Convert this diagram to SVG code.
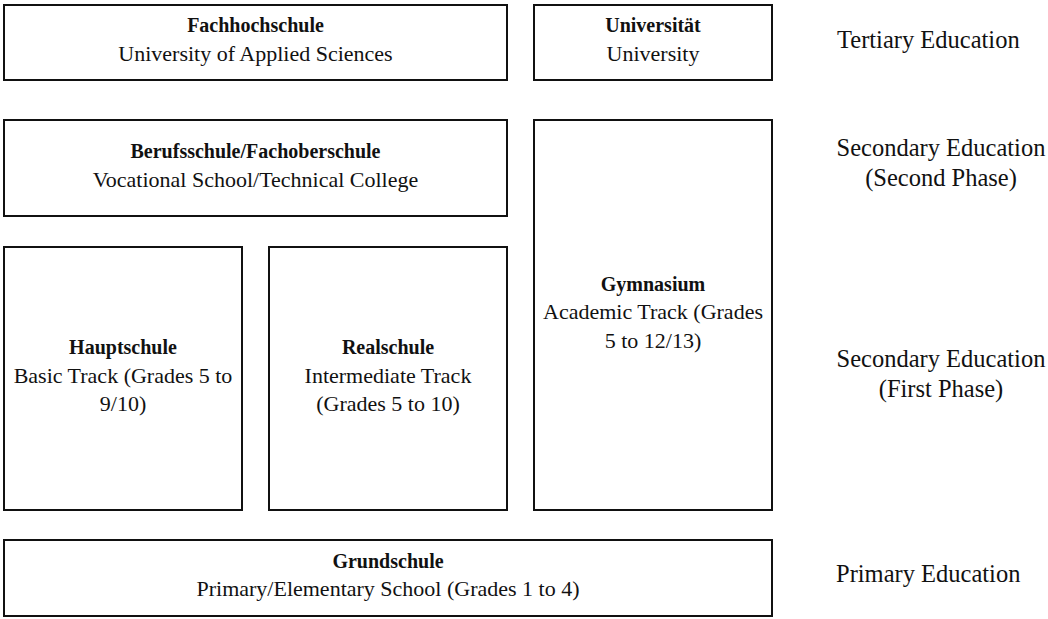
<svg xmlns="http://www.w3.org/2000/svg" width="1048" height="619" viewBox="0 0 1048 619">
<style>
  .box { fill: #ffffff; stroke: #111111; stroke-width: 2; }
  .t { font-family: "Liberation Serif", "Times New Roman", serif; fill: #111111; text-anchor: middle; }
  .b { font-weight: bold; font-size: 20px; }
  .r { font-size: 22px; }
  .lab { font-family: "Liberation Serif", "Times New Roman", serif; font-size: 24.5px; fill: #111111; }
</style>
<rect width="1048" height="619" fill="#ffffff"/>
<g id="connectors"></g>
<g id="fachhochschule">
  <rect class="box" x="4" y="5" width="503" height="75"/>
  <text class="t b" x="255.5" y="32">Fachhochschule</text>
  <text class="t r" x="255.5" y="61">University of Applied Sciences</text>
</g>
<g id="universitaet">
  <rect class="box" x="534" y="5" width="238" height="75"/>
  <text class="t b" x="653" y="32">Universität</text>
  <text class="t r" x="653" y="61">University</text>
</g>
<g id="berufsschule">
  <rect class="box" x="4" y="120" width="503" height="96"/>
  <text class="t b" x="255.5" y="158">Berufsschule/Fachoberschule</text>
  <text class="t r" x="255.5" y="187">Vocational School/Technical College</text>
</g>
<g id="gymnasium">
  <rect class="box" x="534" y="120" width="238" height="390"/>
  <text class="t b" x="653" y="290.5">Gymnasium</text>
  <text class="t r" x="653" y="319">Academic Track (Grades</text>
  <text class="t r" x="653" y="347.5">5 to 12/13)</text>
</g>
<g id="hauptschule">
  <rect class="box" x="4" y="247" width="238" height="263"/>
  <text class="t b" x="123" y="354">Hauptschule</text>
  <text class="t r" x="123" y="382.5">Basic Track (Grades 5 to</text>
  <text class="t r" x="123" y="411">9/10)</text>
</g>
<g id="realschule">
  <rect class="box" x="269" y="247" width="238" height="263"/>
  <text class="t b" x="388" y="354">Realschule</text>
  <text class="t r" x="388" y="382.5">Intermediate Track</text>
  <text class="t r" x="388" y="411">(Grades 5 to 10)</text>
</g>
<g id="grundschule">
  <rect class="box" x="4" y="540" width="768" height="76"/>
  <text class="t b" x="388" y="567.5">Grundschule</text>
  <text class="t r" x="388" y="596">Primary/Elementary School (Grades 1 to 4)</text>
</g>
<g id="label-tertiary">
  <text class="lab" x="837" y="47.5">Tertiary Education</text>
</g>
<g id="label-secondary-second">
  <text class="lab" x="941" y="156" text-anchor="middle">Secondary Education</text>
  <text class="lab" x="941" y="186" text-anchor="middle">(Second Phase)</text>
</g>
<g id="label-secondary-first">
  <text class="lab" x="941" y="366.5" text-anchor="middle">Secondary Education</text>
  <text class="lab" x="941" y="396.5" text-anchor="middle">(First Phase)</text>
</g>
<g id="label-primary">
  <text class="lab" x="836" y="582">Primary Education</text>
</g>
</svg>
